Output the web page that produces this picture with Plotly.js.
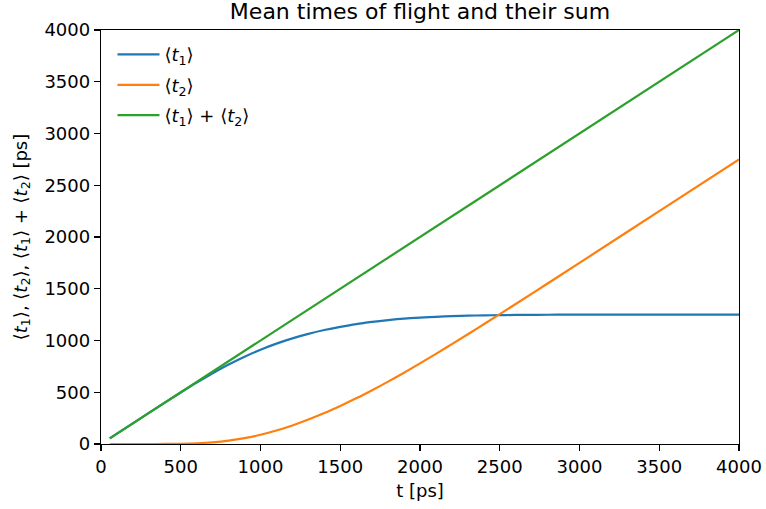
<!DOCTYPE html>
<html>
<head>
<meta charset="utf-8">
<script src="https://cdn.plot.ly/plotly-3.0.1.min.js"></script>
<style>
  html, body { margin: 0; padding: 0; background: #fff; }
  #chart { width: 766px; height: 509px; }
</style>
</head>
<body>
<div id="chart"></div>
<script>
// Elapsed time t [ps]
const tValues = [55, 100, 200, 300, 400, 500, 600, 700, 800, 900, 1000, 1100, 1200, 1300, 1400,
                 1500, 1600, 1700, 1800, 1900, 2000, 2100, 2200, 2300, 2400, 2500, 2600, 2800,
                 3000, 3500, 4000];
// Mean time of flight <t1> [ps]
const meanT1 = [55, 100, 200, 300, 399.5, 497.5, 593, 684, 768, 844, 911, 970, 1021, 1064, 1101,
                1132, 1159, 1180, 1197, 1211, 1221, 1229, 1235, 1240, 1243, 1245, 1247, 1249,
                1250, 1250, 1250];
// Mean time of flight <t2> [ps]
const meanT2 = [0, 0, 0, 0, 0.5, 2.5, 7, 16, 32, 56, 89, 130, 179, 236, 299,
                368, 441, 520, 603, 689, 779, 871, 965, 1060, 1157, 1255, 1353, 1551,
                1750, 2250, 2750];
// Sum <t1> + <t2> [ps]
const meanSum = [55, 100, 200, 300, 400, 500, 600, 700, 800, 900, 1000, 1100, 1200, 1300, 1400,
                 1500, 1600, 1700, 1800, 1900, 2000, 2100, 2200, 2300, 2400, 2500, 2600, 2800,
                 3000, 3500, 4000];

const xTicks = [0, 500, 1000, 1500, 2000, 2500, 3000, 3500, 4000];
const yTicks = [0, 500, 1000, 1500, 2000, 2500, 3000, 3500, 4000];

const font = { family: 'DejaVu Sans, sans-serif', size: 18, color: '#000' };

const traces = [
  { x: tValues, y: meanT1, name: '⟨<i>t</i><sub>1</sub>⟩', legendgroup: 'a',
    mode: 'lines', line: { color: '#1f77b4', width: 2.2, shape: 'spline', smoothing: 1 } },
  { x: tValues, y: meanT2, name: '⟨<i>t</i><sub>2</sub>⟩', legendgroup: 'b',
    mode: 'lines', line: { color: '#ff7f0e', width: 2.2, shape: 'spline', smoothing: 1 } },
  { x: tValues, y: meanSum, name: '⟨<i>t</i><sub>1</sub>⟩ + ⟨<i>t</i><sub>2</sub>⟩', legendgroup: 'c',
    mode: 'lines', line: { color: '#2ca02c', width: 2.2 } }
];

const axisCommon = {
  showline: true, linecolor: '#000', linewidth: 1.2, mirror: true,
  ticks: 'outside', ticklen: 6, tickwidth: 1.2, tickcolor: '#000',
  showgrid: false, zeroline: false, tickfont: font
};

const layout = {
  width: 766, height: 509,
  margin: { l: 101, r: 27, t: 30, b: 65 },
  paper_bgcolor: '#fff', plot_bgcolor: '#fff',
  font: font,
  title: { text: 'Mean times of flight and their sum',
           font: { family: font.family, size: 22, color: '#000' },
           xref: 'paper', x: 0.5, xanchor: 'center',
           yref: 'container', y: 0.977, yanchor: 'middle' },
  xaxis: Object.assign({}, axisCommon, {
    range: [0, 4000], tickvals: xTicks, ticktext: xTicks.map(String),
    title: { text: 't [ps]', font: font, standoff: 8 }
  }),
  yaxis: Object.assign({}, axisCommon, {
    range: [0, 4000], tickvals: yTicks, ticktext: yTicks.map(String),
    title: { text: '⟨<i>t</i><sub>1</sub>⟩, ⟨<i>t</i><sub>2</sub>⟩, ⟨<i>t</i><sub>1</sub>⟩ + ⟨<i>t</i><sub>2</sub>⟩ [ps]',
             font: font, standoff: 12 }
  }),
  legend: {
    x: 0.018, y: 0.985, xanchor: 'left', yanchor: 'top',
    bgcolor: 'rgba(255,255,255,0.8)', borderwidth: 0,
    font: font, tracegroupgap: 4, itemwidth: 42
  },
  showlegend: true
};

Plotly.newPlot('chart', traces, layout, { displayModeBar: false, staticPlot: true });
</script>
</body>
</html>
